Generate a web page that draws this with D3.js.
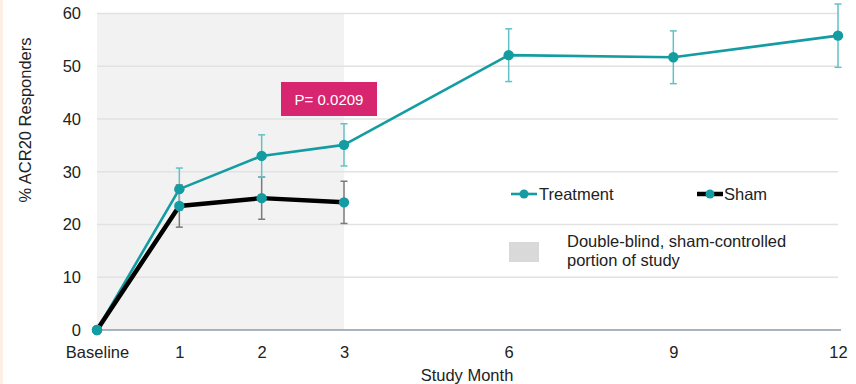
<!DOCTYPE html>
<html>
<head>
<meta charset="utf-8">
<script src="https://cdn.jsdelivr.net/npm/d3@7/dist/d3.min.js"></script>
<style>
  html, body { margin: 0; padding: 0; background: #ffffff; }
  svg { display: block; font-family: "Liberation Sans", Arial, sans-serif; }
</style>
</head>
<body>
<svg id="chart" width="856" height="384"></svg>
<script>
// ---- data ----
const months = [0, 1, 2, 3, 6, 9, 12];
const monthLabels = ["Baseline", "1", "2", "3", "6", "9", "12"];
const treatment = [0, 26.7, 33.0, 35.1, 52.1, 51.7, 55.8];
const treatmentErr = [0, 4, 4, 4, 5, 5, 6];
const shamMonths = [0, 1, 2, 3];
const sham = [0, 23.5, 25.0, 24.2];
const shamErr = [0, 4, 4, 4];
const yTicks = [0, 10, 20, 30, 40, 50, 60];
const blindEndMonth = 3;
const pValueText = "P= 0.0209";
const seriesNames = ["Treatment", "Sham"];
const shadeLabel = ["Double-blind, sham-controlled", "portion of study"];

// ---- styles ----
const teal = "#139ca1";
const tealErr = "#62c1c5";
const textColor = "#222222";
const fontSize = 16.5;

const svg = d3.select("#chart");

// left peach border
svg.append("rect").attr("x", 0).attr("y", 0).attr("width", 3).attr("height", 384).attr("fill", "#fcefe6");

const x = d3.scaleLinear().domain([0, 3, 12]).range([97, 344, 838]);
const y = d3.scaleLinear().domain([0, 60]).range([330, 13.5]);

// shaded double-blind region
svg.append("rect")
  .attr("x", x(0)).attr("y", y(60))
  .attr("width", x(blindEndMonth) - x(0))
  .attr("height", y(0) - y(60))
  .attr("fill", "#f2f2f2");

// gridlines
svg.append("g").selectAll("line").data(yTicks.filter(d => d > 0)).join("line")
  .attr("x1", x(0)).attr("x2", x(12))
  .attr("y1", d => y(d)).attr("y2", d => y(d))
  .attr("stroke", "#e2e2e2").attr("stroke-width", 1.5);

// y axis labels
const yAxis = svg.append("g").attr("transform", `translate(${x(0)},0)`)
  .call(d3.axisLeft(y).tickValues(yTicks).tickSize(0).tickPadding(16));
yAxis.select(".domain").remove();
yAxis.selectAll("text").attr("font-size", fontSize).attr("fill", textColor)
  .attr("font-family", "Liberation Sans, Arial, sans-serif");

// x axis
const xAxis = svg.append("g").attr("transform", `translate(0,${y(0)})`)
  .call(d3.axisBottom(x).tickValues(months).tickFormat((d, i) => monthLabels[i]).tickSize(0).tickPadding(16));
xAxis.select(".domain").remove();
xAxis.selectAll("text").attr("font-size", fontSize).attr("fill", textColor)
  .attr("font-family", "Liberation Sans, Arial, sans-serif");

svg.append("line")
  .attr("x1", x(0)).attr("x2", 841)
  .attr("y1", y(0)).attr("y2", y(0))
  .attr("stroke", "#8d9ba7").attr("stroke-width", 1.6);

// axis titles
svg.append("text")
  .attr("transform", `translate(31,120) rotate(-90)`)
  .attr("text-anchor", "middle")
  .attr("font-size", fontSize).attr("fill", textColor)
  .text("% ACR20 Responders");
svg.append("text")
  .attr("x", 467).attr("y", 381)
  .attr("text-anchor", "middle")
  .attr("font-size", fontSize).attr("fill", textColor)
  .text("Study Month");

// error bars
function errorBars(xs, vals, errs, color) {
  const g = svg.append("g").attr("stroke", color).attr("stroke-width", 1.5).attr("fill", "none");
  xs.forEach((m, i) => {
    if (!errs[i]) return;
    const cx = x(m), y1 = y(vals[i] + errs[i]), y2 = y(vals[i] - errs[i]);
    g.append("line").attr("x1", cx).attr("x2", cx).attr("y1", y1).attr("y2", y2);
    g.append("line").attr("x1", cx - 3.5).attr("x2", cx + 3.5).attr("y1", y1).attr("y2", y1);
    g.append("line").attr("x1", cx - 3.5).attr("x2", cx + 3.5).attr("y1", y2).attr("y2", y2);
  });
}
errorBars(shamMonths, sham, shamErr, "#7a7a7a");
errorBars(months, treatment, treatmentErr, tealErr);

const line = d3.line().x(d => x(d[0])).y(d => y(d[1]));

svg.append("path")
  .datum(months.map((m, i) => [m, treatment[i]]))
  .attr("d", line).attr("fill", "none")
  .attr("stroke", teal).attr("stroke-width", 2.6).attr("stroke-linejoin", "round");

svg.append("path")
  .datum(shamMonths.map((m, i) => [m, sham[i]]))
  .attr("d", line).attr("fill", "none")
  .attr("stroke", "#000000").attr("stroke-width", 4.5).attr("stroke-linejoin", "round");

// markers
svg.append("g").selectAll("circle").data(shamMonths.map((m, i) => [m, sham[i]])).join("circle")
  .attr("cx", d => x(d[0])).attr("cy", d => y(d[1])).attr("r", 5.2).attr("fill", teal);
svg.append("g").selectAll("circle").data(months.map((m, i) => [m, treatment[i]])).join("circle")
  .attr("cx", d => x(d[0])).attr("cy", d => y(d[1])).attr("r", 5.2).attr("fill", teal);

// p-value box
svg.append("rect")
  .attr("x", 281).attr("y", 82).attr("width", 96).attr("height", 34)
  .attr("fill", "#d7266f");
svg.append("text")
  .attr("x", 329).attr("y", 105).attr("text-anchor", "middle")
  .attr("font-size", 15).attr("fill", "#ffffff")
  .text(pValueText);

// legend
const leg = svg.append("g");
leg.append("line").attr("x1", 511).attr("x2", 537).attr("y1", 194).attr("y2", 194)
  .attr("stroke", teal).attr("stroke-width", 2.6);
leg.append("circle").attr("cx", 524).attr("cy", 194).attr("r", 4.5).attr("fill", teal);
leg.append("text").attr("x", 539).attr("y", 200).attr("font-size", fontSize).attr("fill", textColor).text(seriesNames[0]);

leg.append("line").attr("x1", 697).attr("x2", 723).attr("y1", 194).attr("y2", 194)
  .attr("stroke", "#000").attr("stroke-width", 4.5);
leg.append("circle").attr("cx", 710).attr("cy", 194).attr("r", 4.5).attr("fill", teal);
leg.append("text").attr("x", 724).attr("y", 200).attr("font-size", fontSize).attr("fill", textColor).text(seriesNames[1]);

leg.append("rect").attr("x", 509).attr("y", 242).attr("width", 30).attr("height", 20).attr("fill", "#d9d9d9");
leg.append("text").attr("x", 567).attr("y", 247).attr("font-size", fontSize).attr("fill", textColor).text(shadeLabel[0]);
leg.append("text").attr("x", 567).attr("y", 266).attr("font-size", fontSize).attr("fill", textColor).text(shadeLabel[1]);
</script>
</body>
</html>
